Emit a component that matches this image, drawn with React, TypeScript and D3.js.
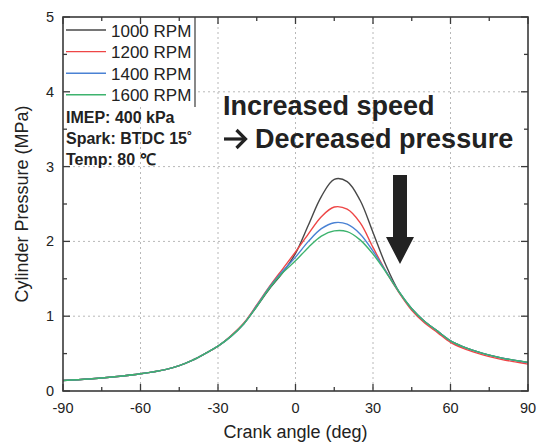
import React from "react";
import * as d3 from "d3";

const angles = [-90, -80, -70, -60, -50, -45, -40, -35, -30, -25, -20, -15, -10, -5, 0, 5, 10, 15, 20, 25, 30, 35, 40, 45, 50, 55, 60, 65, 70, 75, 80, 85, 90];
const rpm1000 = [0.14, 0.16, 0.19, 0.23, 0.29, 0.34, 0.41, 0.5, 0.6, 0.73, 0.9, 1.13, 1.37, 1.58, 1.84, 2.22, 2.6, 2.83, 2.8, 2.55, 2.12, 1.68, 1.33, 1.1, 0.93, 0.8, 0.67, 0.59, 0.53, 0.48, 0.44, 0.41, 0.38];
const rpm1200 = [0.14, 0.16, 0.19, 0.23, 0.29, 0.34, 0.41, 0.5, 0.6, 0.74, 0.91, 1.15, 1.4, 1.63, 1.86, 2.1, 2.33, 2.46, 2.43, 2.25, 1.92, 1.6, 1.32, 1.08, 0.91, 0.78, 0.65, 0.57, 0.51, 0.46, 0.42, 0.39, 0.36];
const rpm1400 = [0.14, 0.16, 0.19, 0.23, 0.29, 0.34, 0.41, 0.5, 0.6, 0.73, 0.9, 1.14, 1.39, 1.6, 1.79, 2.0, 2.17, 2.25, 2.23, 2.1, 1.87, 1.6, 1.33, 1.1, 0.93, 0.8, 0.67, 0.59, 0.53, 0.48, 0.44, 0.41, 0.38];
const rpm1600 = [0.14, 0.16, 0.19, 0.23, 0.29, 0.34, 0.41, 0.5, 0.6, 0.73, 0.9, 1.13, 1.38, 1.58, 1.74, 1.92, 2.07, 2.14, 2.13, 2.02, 1.83, 1.59, 1.33, 1.1, 0.93, 0.8, 0.67, 0.59, 0.53, 0.48, 0.44, 0.41, 0.385];

const seriesNames = ["1000 RPM", "1200 RPM", "1400 RPM", "1600 RPM"];
const seriesValues = [rpm1000, rpm1200, rpm1400, rpm1600];
const seriesColors = ["#484848", "#ee4646", "#4a82d4", "#3db36e"];

const xTicks = [-90, -60, -30, 0, 30, 60, 90];
const xMinor = [-75, -45, -15, 15, 45, 75];
const yTicks = [0, 1, 2, 3, 4, 5];
const yMinor = [0.5, 1.5, 2.5, 3.5, 4.5];
const notes = ["IMEP: 400 kPa", "Spark: BTDC 15˚", "Temp: 80 ℃"];
const annotationLine1 = "Increased speed";
const annotationLine2 = "Decreased pressure";

const W = 540;
const H = 446;
const L = 63, R = 528, T = 17, B = 391;
const FONT = "'Liberation Sans', Arial, sans-serif";

export default function App() {
  const x = d3.scaleLinear().domain([-90, 90]).range([L, R]);
  const y = d3.scaleLinear().domain([0, 5]).range([B, T]);
  const line = d3
    .line<[number, number]>()
    .x((d) => x(d[0]))
    .y((d) => y(d[1]))
    .curve(d3.curveCatmullRom.alpha(0.5));

  const axisColor = "#3a3a3a";
  const arrowPath = (() => {
    const cx = 400, hw = 7, headW = 14;
    const top = 175, headTop = 237, tip = 264;
    return `M${cx - hw},${top} L${cx + hw},${top} L${cx + hw},${headTop} L${cx + headW},${headTop} L${cx},${tip} L${cx - headW},${headTop} L${cx - hw},${headTop} Z`;
  })();

  return (
    <svg width={W} height={H} style={{ position: "absolute", left: 0, top: 0, background: "#fff" }} fontFamily={FONT}>
      {/* grid */}
      {xTicks.slice(1, -1).map((t) => (
        <line key={"gx" + t} x1={x(t)} x2={x(t)} y1={T} y2={B} stroke="#b8b8b8" strokeWidth={1} strokeDasharray="2,3" />
      ))}
      {yTicks.slice(1, -1).map((t) => (
        <line key={"gy" + t} x1={L} x2={R} y1={y(t)} y2={y(t)} stroke="#b8b8b8" strokeWidth={1} strokeDasharray="2,3" />
      ))}

      {/* curves */}
      {seriesValues.map((vals, i) => (
        <path
          key={seriesNames[i]}
          d={line(angles.map((a, j) => [a, vals[j]] as [number, number])) || ""}
          fill="none"
          stroke={seriesColors[i]}
          strokeWidth={1.4}
        />
      ))}

      {/* legend box */}
      <rect x={L} y={T} width={195 - L} height={107 - T} fill="#fff" />
      <line x1={195} x2={195} y1={T} y2={107} stroke={axisColor} strokeWidth={1.2} />
      {seriesNames.map((n, i) => {
        const ly = 30 + i * 21.6;
        return (
          <g key={"lg" + n}>
            <line x1={66} x2={106} y1={ly} y2={ly} stroke={seriesColors[i]} strokeWidth={1.4} />
            <text x={111} y={ly + 6.5} fontSize={17} fill="#222">
              {n}
            </text>
          </g>
        );
      })}

      {/* ticks */}
      {xTicks.map((t) => (
        <g key={"xt" + t}>
          <line x1={x(t)} x2={x(t)} y1={B} y2={B - 7} stroke={axisColor} strokeWidth={1.3} />
          <line x1={x(t)} x2={x(t)} y1={T} y2={T + 7} stroke={axisColor} strokeWidth={1.3} />
          <text x={x(t)} y={413} fontSize={14.5} textAnchor="middle" fill="#222">
            {t}
          </text>
        </g>
      ))}
      {xMinor.map((t) => (
        <g key={"xm" + t}>
          <line x1={x(t)} x2={x(t)} y1={B} y2={B - 4} stroke={axisColor} strokeWidth={1.3} />
          <line x1={x(t)} x2={x(t)} y1={T} y2={T + 4} stroke={axisColor} strokeWidth={1.3} />
        </g>
      ))}
      {yTicks.map((t) => (
        <g key={"yt" + t}>
          <line x1={L} x2={L + 7} y1={y(t)} y2={y(t)} stroke={axisColor} strokeWidth={1.3} />
          <line x1={R} x2={R - 7} y1={y(t)} y2={y(t)} stroke={axisColor} strokeWidth={1.3} />
          <text x={54} y={y(t) + 5} fontSize={14.5} textAnchor="end" fill="#222">
            {t}
          </text>
        </g>
      ))}
      {yMinor.map((t) => (
        <g key={"ym" + t}>
          <line x1={L} x2={L + 4} y1={y(t)} y2={y(t)} stroke={axisColor} strokeWidth={1.3} />
          <line x1={R} x2={R - 4} y1={y(t)} y2={y(t)} stroke={axisColor} strokeWidth={1.3} />
        </g>
      ))}

      {/* frame */}
      <rect x={L} y={T} width={R - L} height={B - T} fill="none" stroke={axisColor} strokeWidth={1.6} />

      {/* notes */}
      {notes.map((n, i) => (
        <text key={n} x={66} y={123 + i * 21} fontSize={16} fontWeight="bold" fill="#222">
          {n}
        </text>
      ))}

      {/* annotation */}
      <text x={223} y={115} fontSize={27} fontWeight="bold" fill="#222">
        {annotationLine1}
      </text>
      <g stroke="#222" strokeWidth={3.2} fill="none" strokeLinecap="butt" strokeLinejoin="miter">
        <line x1={224} x2={246} y1={139} y2={139} />
        <polyline points="236.5,130 245.5,139 236.5,148" />
      </g>
      <text x={255} y={148} fontSize={27} fontWeight="bold" fill="#222">
        {annotationLine2}
      </text>
      <path d={arrowPath} fill="#222" />

      {/* axis titles */}
      <text x={(L + R) / 2} y={438} fontSize={18} textAnchor="middle" fill="#222">
        Crank angle (deg)
      </text>
      <text transform={`translate(28, ${(T + B) / 2}) rotate(-90)`} fontSize={18} textAnchor="middle" fill="#222">
        Cylinder Pressure (MPa)
      </text>
    </svg>
  );
}
